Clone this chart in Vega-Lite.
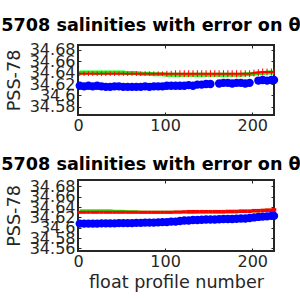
{
  "$schema": "https://vega.github.io/schema/vega-lite/v6.json",
  "background": "white",
  "padding": {"left": 0, "top": 15, "right": 0, "bottom": 0},
  "spacing": 20,
  "config": {
    "view": {"stroke": "#262626", "strokeWidth": 2},
    "font": "DejaVu Sans",
    "axis": {
      "grid": false,
      "domain": false,
      "labelFont": "DejaVu Sans",
      "labelFontSize": 16,
      "labelColor": "#262626",
      "labelOverlap": false,
      "labelFlush": false,
      "labelBound": false,
      "tickColor": "#262626",
      "tickSize": -3,
      "tickWidth": 1,
      "labelPadding": 6,
      "titleFont": "DejaVu Sans",
      "titleFontSize": 17.6,
      "titleFontWeight": "normal",
      "titleColor": "#262626"
    },
    "axisX": {"labelPadding": 5},
    "title": {"font": "DejaVu Sans", "fontSize": 17.6, "fontWeight": "bold", "color": "#000000"}
  },
  "datasets": {
    "top": [
      {"p": 2, "b": 34.617, "r": 34.638, "lo": 34.634, "hi": 34.642, "g": 34.640},
      {"p": 7, "b": 34.616, "r": 34.638, "lo": 34.634, "hi": 34.642, "g": 34.640},
      {"p": 12, "b": 34.617, "r": 34.638, "lo": 34.634, "hi": 34.642, "g": 34.640},
      {"p": 17, "b": 34.616, "r": 34.638, "lo": 34.634, "hi": 34.642, "g": 34.640},
      {"p": 22, "b": 34.617, "r": 34.638, "lo": 34.634, "hi": 34.642, "g": 34.640},
      {"p": 27, "b": 34.616, "r": 34.638, "lo": 34.634, "hi": 34.642, "g": 34.640},
      {"p": 32, "b": 34.615, "r": 34.638, "lo": 34.634, "hi": 34.642, "g": 34.640},
      {"p": 37, "b": 34.615, "r": 34.638, "lo": 34.634, "hi": 34.642, "g": 34.640},
      {"p": 42, "b": 34.616, "r": 34.638, "lo": 34.634, "hi": 34.642, "g": 34.640},
      {"p": 47, "b": 34.616, "r": 34.638, "lo": 34.634, "hi": 34.642, "g": 34.640},
      {"p": 52, "b": 34.615, "r": 34.638, "lo": 34.634, "hi": 34.642, "g": 34.640},
      {"p": 57, "b": 34.615, "r": 34.638, "lo": 34.634, "hi": 34.642, "g": 34.639},
      {"p": 62, "b": 34.615, "r": 34.638, "lo": 34.634, "hi": 34.642, "g": 34.639},
      {"p": 67, "b": 34.615, "r": 34.638, "lo": 34.634, "hi": 34.642, "g": 34.639},
      {"p": 72, "b": 34.615, "r": 34.638, "lo": 34.634, "hi": 34.642, "g": 34.638},
      {"p": 77, "b": 34.616, "r": 34.638, "lo": 34.634, "hi": 34.642, "g": 34.638},
      {"p": 82, "b": 34.615, "r": 34.638, "lo": 34.634, "hi": 34.642, "g": 34.638},
      {"p": 87, "b": 34.616, "r": 34.638, "lo": 34.634, "hi": 34.642, "g": 34.637},
      {"p": 92, "b": 34.616, "r": 34.638, "lo": 34.634, "hi": 34.642, "g": 34.637},
      {"p": 97, "b": 34.616, "r": 34.638, "lo": 34.634, "hi": 34.642, "g": 34.637},
      {"p": 102, "b": 34.617, "r": 34.638, "lo": 34.633, "hi": 34.643, "g": 34.636},
      {"p": 107, "b": 34.617, "r": 34.638, "lo": 34.633, "hi": 34.643, "g": 34.636},
      {"p": 112, "b": 34.617, "r": 34.638, "lo": 34.632, "hi": 34.644, "g": 34.636},
      {"p": 117, "b": 34.617, "r": 34.638, "lo": 34.632, "hi": 34.644, "g": 34.636},
      {"p": 122, "b": 34.617, "r": 34.638, "lo": 34.632, "hi": 34.644, "g": 34.636},
      {"p": 127, "b": 34.618, "r": 34.638, "lo": 34.632, "hi": 34.644, "g": 34.636},
      {"p": 132, "b": 34.617, "r": 34.638, "lo": 34.632, "hi": 34.644, "g": 34.636},
      {"p": 137, "b": 34.619, "r": 34.638, "lo": 34.632, "hi": 34.644, "g": 34.636},
      {"p": 142, "b": 34.619, "r": 34.638, "lo": 34.632, "hi": 34.644, "g": 34.636},
      {"p": 147, "b": 34.620, "r": 34.638, "lo": 34.632, "hi": 34.644, "g": 34.636},
      {"p": 152, "b": 34.620, "r": 34.638, "lo": 34.632, "hi": 34.644, "g": 34.636},
      {"p": 157, "b": null, "r": 34.638, "lo": 34.632, "hi": 34.644, "g": 34.636},
      {"p": 162, "b": 34.621, "r": 34.638, "lo": 34.632, "hi": 34.644, "g": 34.636},
      {"p": 167, "b": 34.622, "r": 34.638, "lo": 34.632, "hi": 34.644, "g": 34.636},
      {"p": 172, "b": 34.622, "r": 34.638, "lo": 34.632, "hi": 34.644, "g": 34.636},
      {"p": 177, "b": 34.621, "r": 34.638, "lo": 34.632, "hi": 34.644, "g": 34.636},
      {"p": 182, "b": 34.622, "r": 34.638, "lo": 34.632, "hi": 34.644, "g": 34.636},
      {"p": 187, "b": 34.622, "r": 34.638, "lo": 34.632, "hi": 34.644, "g": 34.636},
      {"p": 192, "b": 34.621, "r": 34.638, "lo": 34.632, "hi": 34.644, "g": 34.637},
      {"p": 197, "b": 34.622, "r": 34.638, "lo": 34.632, "hi": 34.644, "g": 34.637},
      {"p": 202, "b": null, "r": 34.639, "lo": 34.633, "hi": 34.645, "g": 34.638},
      {"p": 207, "b": 34.626, "r": 34.640, "lo": 34.634, "hi": 34.646, "g": 34.639},
      {"p": 212, "b": 34.627, "r": 34.641, "lo": 34.635, "hi": 34.647, "g": 34.639},
      {"p": 217, "b": 34.626, "r": 34.641, "lo": 34.635, "hi": 34.647, "g": 34.640},
      {"p": 222, "b": 34.627, "r": 34.641, "lo": 34.635, "hi": 34.647, "g": 34.640},
      {"p": 225, "b": 34.627, "r": 34.641, "lo": 34.635, "hi": 34.647, "g": 34.640}
    ],
    "bottom": [
      {"p": 2, "b": 34.608, "r": 34.630, "lo": 34.627, "hi": 34.633, "g": 34.633},
      {"p": 7, "b": 34.608, "r": 34.630, "lo": 34.627, "hi": 34.633, "g": 34.633},
      {"p": 12, "b": 34.608, "r": 34.630, "lo": 34.627, "hi": 34.633, "g": 34.633},
      {"p": 17, "b": 34.608, "r": 34.630, "lo": 34.627, "hi": 34.633, "g": 34.633},
      {"p": 22, "b": 34.608, "r": 34.630, "lo": 34.627, "hi": 34.633, "g": 34.633},
      {"p": 27, "b": 34.6085, "r": 34.630, "lo": 34.627, "hi": 34.633, "g": 34.633},
      {"p": 32, "b": 34.6085, "r": 34.630, "lo": 34.627, "hi": 34.633, "g": 34.633},
      {"p": 37, "b": 34.6085, "r": 34.630, "lo": 34.627, "hi": 34.633, "g": 34.633},
      {"p": 42, "b": 34.6085, "r": 34.630, "lo": 34.627, "hi": 34.633, "g": 34.632},
      {"p": 47, "b": 34.609, "r": 34.630, "lo": 34.627, "hi": 34.633, "g": 34.632},
      {"p": 52, "b": 34.609, "r": 34.630, "lo": 34.627, "hi": 34.633, "g": 34.632},
      {"p": 57, "b": 34.609, "r": 34.630, "lo": 34.627, "hi": 34.633, "g": 34.631},
      {"p": 62, "b": 34.609, "r": 34.630, "lo": 34.627, "hi": 34.633, "g": 34.631},
      {"p": 67, "b": 34.6095, "r": 34.630, "lo": 34.627, "hi": 34.633, "g": 34.631},
      {"p": 72, "b": 34.6095, "r": 34.630, "lo": 34.627, "hi": 34.633, "g": 34.630},
      {"p": 77, "b": 34.610, "r": 34.630, "lo": 34.627, "hi": 34.633, "g": 34.630},
      {"p": 82, "b": 34.610, "r": 34.630, "lo": 34.627, "hi": 34.633, "g": 34.630},
      {"p": 87, "b": 34.610, "r": 34.630, "lo": 34.627, "hi": 34.633, "g": 34.630},
      {"p": 92, "b": 34.6105, "r": 34.630, "lo": 34.627, "hi": 34.633, "g": 34.630},
      {"p": 97, "b": 34.611, "r": 34.630, "lo": 34.627, "hi": 34.633, "g": 34.630},
      {"p": 102, "b": 34.611, "r": 34.630, "lo": 34.627, "hi": 34.633, "g": 34.630},
      {"p": 107, "b": 34.612, "r": 34.630, "lo": 34.627, "hi": 34.633, "g": 34.630},
      {"p": 112, "b": 34.612, "r": 34.6305, "lo": 34.6275, "hi": 34.6335, "g": 34.630},
      {"p": 117, "b": 34.613, "r": 34.6305, "lo": 34.6275, "hi": 34.6335, "g": 34.630},
      {"p": 122, "b": 34.614, "r": 34.631, "lo": 34.628, "hi": 34.634, "g": 34.630},
      {"p": 127, "b": 34.614, "r": 34.631, "lo": 34.6275, "hi": 34.6345, "g": 34.630},
      {"p": 132, "b": 34.615, "r": 34.631, "lo": 34.6275, "hi": 34.6345, "g": 34.630},
      {"p": 137, "b": 34.615, "r": 34.631, "lo": 34.6275, "hi": 34.6345, "g": 34.631},
      {"p": 142, "b": 34.6155, "r": 34.631, "lo": 34.6275, "hi": 34.6345, "g": 34.631},
      {"p": 147, "b": 34.616, "r": 34.631, "lo": 34.6275, "hi": 34.6345, "g": 34.631},
      {"p": 152, "b": 34.616, "r": 34.631, "lo": 34.6275, "hi": 34.6345, "g": 34.631},
      {"p": 157, "b": 34.616, "r": 34.631, "lo": 34.6275, "hi": 34.6345, "g": 34.631},
      {"p": 162, "b": 34.6165, "r": 34.631, "lo": 34.6275, "hi": 34.6345, "g": 34.631},
      {"p": 167, "b": 34.617, "r": 34.631, "lo": 34.6275, "hi": 34.6345, "g": 34.631},
      {"p": 172, "b": 34.617, "r": 34.6315, "lo": 34.628, "hi": 34.635, "g": 34.631},
      {"p": 177, "b": 34.617, "r": 34.6315, "lo": 34.628, "hi": 34.635, "g": 34.631},
      {"p": 182, "b": 34.6175, "r": 34.6315, "lo": 34.628, "hi": 34.635, "g": 34.631},
      {"p": 187, "b": 34.618, "r": 34.632, "lo": 34.6285, "hi": 34.6355, "g": 34.632},
      {"p": 192, "b": 34.618, "r": 34.632, "lo": 34.6285, "hi": 34.6355, "g": 34.632},
      {"p": 197, "b": 34.619, "r": 34.632, "lo": 34.6285, "hi": 34.6355, "g": 34.632},
      {"p": 202, "b": 34.620, "r": 34.633, "lo": 34.6295, "hi": 34.6365, "g": 34.633},
      {"p": 207, "b": 34.621, "r": 34.633, "lo": 34.6295, "hi": 34.6365, "g": 34.633},
      {"p": 212, "b": 34.6215, "r": 34.6335, "lo": 34.630, "hi": 34.637, "g": 34.633},
      {"p": 217, "b": 34.622, "r": 34.634, "lo": 34.6305, "hi": 34.6375, "g": 34.634},
      {"p": 222, "b": 34.623, "r": 34.634, "lo": 34.6305, "hi": 34.6375, "g": 34.634},
      {"p": 225, "b": 34.623, "r": 34.6345, "lo": 34.631, "hi": 34.638, "g": 34.634}
    ]
  },
  "vconcat": [
    {
      "width": 196,
      "height": 70,
      "data": {"name": "top"},
      "title": {"text": "5708 salinities with error on θ", "anchor": "middle", "dx": -25, "offset": 7},
      "resolve": {"axis": {"x": "independent", "y": "independent"}},
      "layer": [
        {
          "mark": {"type": "line", "color": "#00FF00", "strokeWidth": 4},
          "encoding": {
            "x": {"field": "p", "type": "quantitative", "scale": {"domain": [0, 225], "nice": false}, "axis": {"values": [0, 100, 200], "title": null}},
            "y": {"field": "g", "type": "quantitative", "scale": {"domain": [34.566, 34.688], "nice": false, "zero": false}, "axis": {"values": [34.58, 34.6, 34.62, 34.64, 34.66, 34.68], "format": ".4~r", "title": "PSS-78", "titlePadding": 6}}
          }
        },
        {
          "mark": {"type": "point", "opacity": 0},
          "encoding": {
            "x": {"field": "p", "type": "quantitative", "axis": {"orient": "top", "values": [0, 100, 200], "labels": false, "title": null}},
            "y": {"field": "r", "type": "quantitative", "axis": {"orient": "right", "values": [34.58, 34.6, 34.62, 34.64, 34.66, 34.68], "labels": false, "title": null}}
          }
        },
        {
          "mark": {"type": "rule", "color": "#FF0000", "strokeWidth": 1},
          "encoding": {
            "x": {"field": "p", "type": "quantitative", "axis": null},
            "y": {"field": "lo", "type": "quantitative", "axis": null},
            "y2": {"field": "hi"}
          }
        },
        {
          "mark": {"type": "line", "color": "#FF0000", "strokeWidth": 2},
          "encoding": {
            "x": {"field": "p", "type": "quantitative", "axis": null},
            "y": {"field": "r", "type": "quantitative", "axis": null}
          }
        },
        {
          "mark": {"type": "point", "shape": "circle", "filled": true, "color": "#0000FF", "opacity": 1, "size": 70},
          "encoding": {
            "x": {"field": "p", "type": "quantitative", "axis": null},
            "y": {"field": "b", "type": "quantitative", "axis": null}
          }
        }
      ]
    },
    {
      "width": 196,
      "height": 71,
      "data": {"name": "bottom"},
      "title": {"text": "5708 salinities with error on θ", "anchor": "middle", "dx": -25, "offset": 5},
      "resolve": {"axis": {"x": "independent", "y": "independent"}},
      "layer": [
        {
          "mark": {"type": "line", "color": "#00FF00", "strokeWidth": 3},
          "encoding": {
            "x": {"field": "p", "type": "quantitative", "scale": {"domain": [0, 225], "nice": false}, "axis": {"values": [0, 100, 200], "title": "float profile number", "titlePadding": 4}},
            "y": {"field": "g", "type": "quantitative", "scale": {"domain": [34.555, 34.6925], "nice": false, "zero": false}, "axis": {"values": [34.56, 34.58, 34.6, 34.62, 34.64, 34.66, 34.68], "format": ".4~r", "title": "PSS-78", "titlePadding": 6}}
          }
        },
        {
          "mark": {"type": "point", "opacity": 0},
          "encoding": {
            "x": {"field": "p", "type": "quantitative", "axis": {"orient": "top", "values": [0, 100, 200], "labels": false, "title": null}},
            "y": {"field": "r", "type": "quantitative", "axis": {"orient": "right", "values": [34.56, 34.58, 34.6, 34.62, 34.64, 34.66, 34.68], "labels": false, "title": null}}
          }
        },
        {
          "mark": {"type": "rule", "color": "#FF0000", "strokeWidth": 4.5},
          "encoding": {
            "x": {"field": "p", "type": "quantitative", "axis": null},
            "y": {"field": "lo", "type": "quantitative", "axis": null},
            "y2": {"field": "hi"}
          }
        },
        {
          "mark": {"type": "point", "shape": "circle", "filled": true, "color": "#0000FF", "opacity": 1, "size": 70},
          "encoding": {
            "x": {"field": "p", "type": "quantitative", "axis": null},
            "y": {"field": "b", "type": "quantitative", "axis": null}
          }
        }
      ]
    }
  ]
}
